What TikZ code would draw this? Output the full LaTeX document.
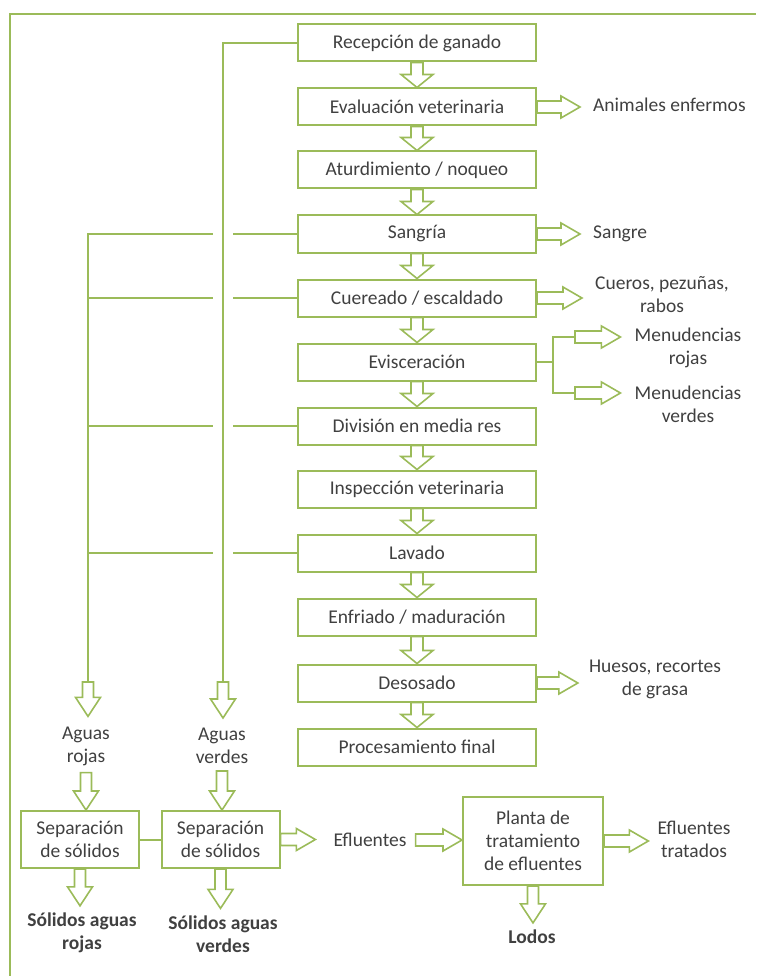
\documentclass[tikz,border=0pt]{standalone}
\usepackage{fontspec}
\setmainfont{Carlito}
\usetikzlibrary{calc,backgrounds}
\definecolor{leaf}{RGB}{155,187,89}
\definecolor{ink}{RGB}{64,64,64}

\tikzset{
 line/.style={draw=leaf, line width=2pt},
 stepbox/.style={draw=leaf, line width=2pt, minimum width=238pt, minimum height=37pt, inner sep=0pt},
 sepbox/.style={draw=leaf, line width=2pt, minimum width=118pt, minimum height=57pt, inner sep=0pt, align=center},
 lbl/.style={inner sep=0pt, align=center},
 bold/.style={lbl, font=\fontsize{19.5}{23}\selectfont\bfseries},
 hollow/.style={draw=leaf, line width=1.6pt, fill=white, line join=miter},
 fatdown/.style={hollow, to path={let \p1=(\tikztostart), \p2=(\tikztotarget) in
   (\x1-6pt,\y1) -- (\x1-6pt,\y2+13pt) -- (\x1-16pt,\y2+13pt) -- (\x1,\y2)
   -- (\x1+16pt,\y2+13pt) -- (\x1+6pt,\y2+13pt) -- (\x1+6pt,\y1) -- cycle}},
 slimdown/.style={hollow, to path={let \p1=(\tikztostart), \p2=(\tikztotarget) in
   (\x1-5.5pt,\y1) -- (\x1-5.5pt,\y2+19pt) -- (\x1-12.5pt,\y2+19pt) -- (\x1,\y2)
   -- (\x1+12.5pt,\y2+19pt) -- (\x1+5.5pt,\y2+19pt) -- (\x1+5.5pt,\y1) -- cycle}},
 fatright/.style={hollow, to path={let \p1=(\tikztostart), \p2=(\tikztotarget) in
   (\x1,\y1+6pt) -- (\x2-19pt,\y1+6pt) -- (\x2-19pt,\y1+11pt) -- (\x2,\y1)
   -- (\x2-19pt,\y1-11pt) -- (\x2-19pt,\y1-6pt) -- (\x1,\y1-6pt) -- cycle}},
}

\begin{document}
\begin{tikzpicture}[x=1pt, y=-1pt,
  every node/.style={font=\fontsize{19.5}{23}\selectfont, text=ink}]
 \useasboundingbox (0,0) rectangle (756,976);
 \draw[line] (10,976) -- (10,14) -- (756,14);

 % process steps
 \node[stepbox] (N0) at (417,43) {Recepción de ganado};
 \node[stepbox] (N1) at (417,107) {Evaluación veterinaria};
 \node[stepbox] (N2) at (417,170) {Aturdimiento / noqueo};
 \node[stepbox] (N3) at (417,234) {Sangría};
 \node[stepbox] (N4) at (417,298) {Cuereado / escaldado};
 \node[stepbox] (N5) at (417,362) {Evisceración};
 \node[stepbox] (N6) at (417,426) {División en media res};
 \node[stepbox] (N7) at (417,489) {Inspección veterinaria};
 \node[stepbox] (N8) at (417,553) {Lavado};
 \node[stepbox] (N9) at (417,617) {Enfriado / maduración};
 \node[stepbox] (N10) at (417,683) {Desosado};
 \node[stepbox] (N11) at (417,747) {Procesamiento final};

 \draw[fatdown] (N0.south) to (N1.north);
 \draw[fatdown] (N1.south) to (N2.north);
 \draw[fatdown] (N2.south) to (N3.north);
 \draw[fatdown] (N3.south) to (N4.north);
 \draw[fatdown] (N4.south) to (N5.north);
 \draw[fatdown] (N5.south) to (N6.north);
 \draw[fatdown] (N6.south) to (N7.north);
 \draw[fatdown] (N7.south) to (N8.north);
 \draw[fatdown] (N8.south) to (N9.north);
 \draw[fatdown] (N9.south) to (N10.north);
 \draw[fatdown] (N10.south) to (N11.north);

 % by-products
 \node[lbl, anchor=west] (O1) at (593,105) {Animales enfermos};
 \node[lbl, anchor=west] (O2) at (593,234) {Sangre};
 \node[lbl] (O3) at (662,295) {Cueros, pezuñas,\\rabos};
 \node[lbl] (M1) at (688,348) {Menudencias\\rojas};
 \node[lbl] (M2) at (688,404) {Menudencias\\verdes};
 \node[lbl] (O6) at (655,679) {Huesos, recortes\\de grasa};

 \draw[fatright] (N1.east) to ([xshift=-13]O1.west);
 \draw[fatright] (N3.east) to ([xshift=-13]O2.west);
 \draw[fatright] (N4.east) to ([xshift=-13]O3.west);
 \draw[fatright] (N10.east) to ([xshift=-11]O6.west);

 \coordinate (K0) at (553,362);
 \coordinate (K1) at (575,337);
 \coordinate (K2) at (575,393);
 \draw[line] (N5.east) -- (K0);
 \draw[line] (K1) -| (K0) |- (K2);
 \draw[fatright] (K1) to ([xshift=-14]M1.west);
 \draw[fatright] (K2) to ([xshift=-14]M2.west);

 % waste water
 \coordinate (R1) at (88,682);
 \coordinate (V1) at (223,682);
 \begin{scope}[on background layer]
  \draw[line] (N3.west) -| (R1);
  \draw[line] (N4.west) -- (N4.west -| R1);
  \draw[line] (N6.west) -- (N6.west -| R1);
  \draw[line] (N8.west) -- (N8.west -| R1);
  \draw[line, preaction={draw=white, line width=20pt}] (N0.west) -| (V1);
 \end{scope}

 \node[lbl] (A1) at (86,746) {Aguas\\rojas};
 \node[lbl] (A2) at (222,746) {Aguas\\verdes};
 \node[sepbox] (B1) at (80,839.5) {Separación\\de sólidos};
 \node[sepbox] (B2) at (220.5,839.5) {Separación\\de sólidos};
 \node[bold] (S1) at (82,933) {Sólidos aguas\\rojas};
 \node[bold] (S2) at (223,934) {Sólidos aguas\\verdes};

 \draw[slimdown] (R1) to ([yshift=10]A1.north);
 \draw[slimdown] (V1) to ([yshift=10]A2.north);
 \draw[slimdown] ([yshift=-7]A1.south) to (B1.north);
 \draw[slimdown] ([yshift=-7]A2.south) to (B2.north);
 \draw[line] (B1.east) -- (B2.west);
 \draw[slimdown] (B1.south) to ([yshift=7]S1.north);
 \draw[slimdown] (B2.south) to ([yshift=7]S2.north);

 % treatment
 \node[lbl] (F) at (370,840) {Efluentes};
 \node[sepbox, minimum width=140pt, minimum height=88pt] (B3) at (533,841) {Planta de\\tratamiento\\de efluentes};
 \node[lbl] (T) at (694,839) {Efluentes\\tratados};
 \node[bold] (L) at (532,937) {Lodos};

 \draw[fatright] (B2.east) to ([xshift=-18]F.west);
 \draw[fatright] ([xshift=9]F.east) to (B3.west);
 \draw[fatright] (B3.east) to ([xshift=-9]T.west);
 \draw[slimdown] (B3.south) to ([yshift=7]L.north);
\end{tikzpicture}
\end{document}
